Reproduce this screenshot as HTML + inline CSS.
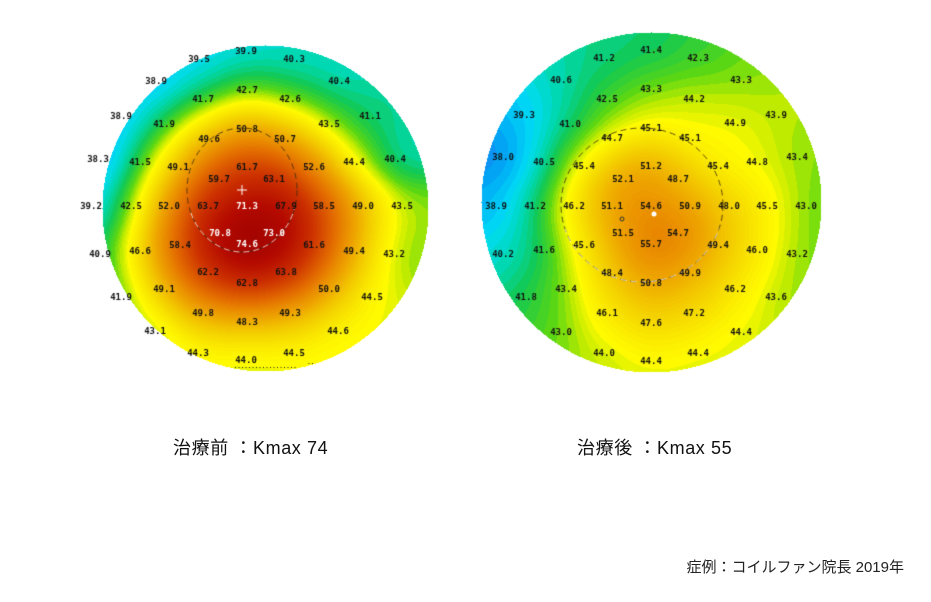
<!DOCTYPE html>
<html><head><meta charset="utf-8">
<style>
body{margin:0;background:#fff;width:931px;height:602px;overflow:hidden;position:relative;font-family:"Liberation Sans","Noto Sans CJK JP",sans-serif}
canvas{position:absolute;left:0;top:0}
.cap{position:absolute;font-size:18px;color:#111;white-space:nowrap;letter-spacing:0.6px}
#note{position:absolute;right:27px;top:556px;font-size:15px;color:#222;white-space:nowrap}
</style></head>
<body>
<canvas id="c" width="931" height="602"></canvas>
<div class="cap" style="left:173px;top:434px">治療前 ：Kmax 74</div>
<div class="cap" style="left:577px;top:434px">治療後 ：Kmax 55</div>
<div id="note">症例：コイルファン院長 2019年</div>
<script>
// Before-treatment map readings (label x, label y, value)
const beforeX=[199,246,294,156,339,247,203,290,121,370,164,329,247,209,285,98,140,178,247,314,354,395,219,274,91,131,169,208,247,286,324,363,402,220,274,100,140,180,247,314,354,394,208,286,247,121,164,329,372,203,290,247,155,338,198,294,246];
const beforeY=[60,52,60,82,82,91,100,100,117,117,125,125,130,140,140,160,163,168,168,168,163,160,180,180,207,207,207,207,207,207,207,207,207,234,234,255,252,246,245,246,252,255,273,273,284,298,290,290,298,314,314,323,332,332,354,354,361];
const beforeV=["39.5","39.9","40.3","38.9","40.4","42.7","41.7","42.6","38.9","41.1","41.9","43.5","50.8","49.6","50.7","38.3","41.5","49.1","61.7","52.6","44.4","40.4","59.7","63.1","39.2","42.5","52.0","63.7","71.3","67.9","58.5","49.0","43.5","70.8","73.0","40.9","46.6","58.4","74.6","61.6","49.4","43.2","62.2","63.8","62.8","41.9","49.1","50.0","44.5","49.8","49.3","48.3","43.1","44.6","44.3","44.5","44.0"];
// After-treatment map readings
const afterX=[651,604,698,561,741,651,607,694,524,570,735,776,651,612,690,503,544,584,651,718,757,797,623,678,496,535,574,612,651,690,729,767,806,623,678,503,544,584,651,718,757,797,612,690,651,526,566,735,776,607,694,651,561,741,604,698,651];
const afterY=[51,59,59,81,81,90,100,100,116,125,124,116,129,139,139,158,163,167,167,167,163,158,180,180,207,207,207,207,207,207,207,207,207,234,234,255,251,246,245,246,251,255,274,274,284,298,290,290,298,314,314,324,333,333,354,354,362];
const afterV=["41.4","41.2","42.3","40.6","43.3","43.3","42.5","44.2","39.3","41.0","44.9","43.9","45.1","44.7","45.1","38.0","40.5","45.4","51.2","45.4","44.8","43.4","52.1","48.7","38.9","41.2","46.2","51.1","54.6","50.9","48.0","45.5","43.0","51.5","54.7","40.2","41.6","45.6","55.7","49.4","46.0","43.2","48.4","49.9","50.8","41.8","43.4","46.2","43.6","46.1","47.2","47.6","43.0","44.4","44.0","44.4","44.4"];
// Colour scale stops (diopters -> rgb)
const scaleVals=[37.5,38.8,39.8,40.8,41.8,43.0,44.0,45,47.5,51,56,62,68,74];
const scaleCols=[[30,110,240],[0,170,245],[0,220,245],[0,215,170],[20,200,80],[90,215,20],[190,235,0],[255,250,0],[245,215,0],[238,165,0],[228,110,0],[205,50,0],[180,10,0],[150,0,0]];

const cv=document.getElementById('c'),ctx=cv.getContext('2d');
function color(v){
  if(v<=scaleVals[0])return scaleCols[0];
  for(let i=1;i<scaleVals.length;i++){if(v<=scaleVals[i]){const t=(v-scaleVals[i-1])/(scaleVals[i]-scaleVals[i-1]);const a=scaleCols[i-1],b=scaleCols[i];return[a[0]+(b[0]-a[0])*t,a[1]+(b[1]-a[1])*t,a[2]+(b[2]-a[2])*t];}}
  return scaleCols[scaleCols.length-1];
}
function drawMap(xs,ys,vs,cx,cy,r){
  const vals=vs.map(Number);
  const s2=2*24*24;
  const img=ctx.getImageData(cx-r,cy-r,2*r,2*r),d=img.data;
  for(let py=0;py<2*r;py++)for(let px=0;px<2*r;px++){
    const x=cx-r+px,y=cy-r+py,dx=x-cx,dy=y-cy;
    if(dx*dx+dy*dy>r*r)continue;
    let sw=0,sv=0;
    for(let i=0;i<vals.length;i++){const ex=x-xs[i],ey=y-ys[i];const dd=ex*ex+ey*ey;const w=Math.exp(-dd/s2)+1e-7/(dd+1);sw+=w;sv+=w*vals[i];}
    let v=sv/sw;v=Math.round(v*3)/3;
    const c=color(v),k=(py*2*r+px)*4;
    d[k]=c[0];d[k+1]=c[1];d[k+2]=c[2];d[k+3]=255;
  }
  ctx.putImageData(img,cx-r,cy-r);
}
ctx.fillStyle='#fff';ctx.fillRect(0,0,931,602);
drawMap(beforeX,beforeY,beforeV,265,208,163);
drawMap(afterX,afterY,afterV,651,202,170);
// dotted bottom edge left (inside circle only)
ctx.fillStyle='#222';
function inL(x,y){return (x-265)*(x-265)+(y-208)*(y-208)<162*162;}
for(let x=172;x<350;x+=3.5){if((x<185||x>305)&&inL(x,363))ctx.fillRect(x,363,1,1);if(inL(x,367))ctx.fillRect(x,367,1,1);if(inL(x+1.5,370))ctx.fillRect(x+1.5,370,1,1);}
// dashed central circles
function dashed(cx,cy,rx,ry){ctx.save();ctx.setLineDash([6,4]);ctx.lineWidth=1;ctx.strokeStyle='rgba(60,40,20,0.8)';ctx.beginPath();ctx.ellipse(cx,cy,rx,ry,0,0,Math.PI*2);ctx.stroke();ctx.strokeStyle='rgba(255,255,255,0.75)';ctx.lineDashOffset=5;ctx.beginPath();ctx.ellipse(cx,cy,rx,ry,0,Math.PI*0.1,Math.PI*0.9);ctx.stroke();ctx.restore();}
dashed(242,190,55,62);
dashed(642,205,81,77);
// labels
ctx.font='bold 9px "DejaVu Sans Mono","Liberation Mono",monospace';ctx.textAlign='center';ctx.textBaseline='middle';
function labels(xs,ys,vs){for(let i=0;i<vs.length;i++){ctx.fillStyle=Number(vs[i])>=70?'#fff':'#111';ctx.fillText(vs[i],xs[i],ys[i]);}}
labels(beforeX,beforeY,beforeV);
labels(afterX,afterY,afterV);
// markers
ctx.strokeStyle='#fff';ctx.beginPath();ctx.moveTo(237,190);ctx.lineTo(247,190);ctx.moveTo(242,185);ctx.lineTo(242,195);ctx.stroke();
ctx.fillStyle='#fff';ctx.beginPath();ctx.arc(654,214,2.5,0,Math.PI*2);ctx.fill();
ctx.strokeStyle='#333';ctx.beginPath();ctx.arc(622,219,2,0,Math.PI*2);ctx.stroke();
</script>
</body></html>
